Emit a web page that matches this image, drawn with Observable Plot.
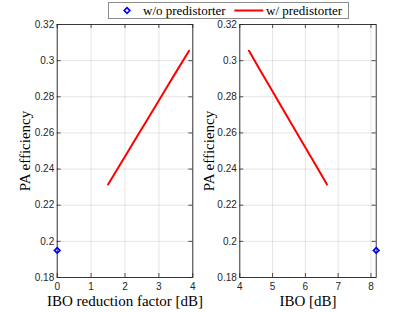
<!DOCTYPE html>
<html><head><meta charset="utf-8">
<script src="https://cdn.jsdelivr.net/npm/d3@7"></script>
<script src="https://cdn.jsdelivr.net/npm/@observablehq/plot@0.6"></script>
<style>
body{margin:0;background:#fff;}
#fig{position:relative;width:415px;height:312px;overflow:hidden;background:#fff;}
#fig svg{position:absolute;top:0;}
</style></head><body><div id="fig"></div>
<script>
// Data
const reductionDb = [1.50, 2.00, 2.50, 3.00, 3.50, 3.89];
const iboDb       = [6.66, 6.16, 5.66, 5.16, 4.66, 4.28];
const effPred     = [0.2315, 0.2470, 0.2625, 0.2780, 0.2935, 0.3055];
const noPredReduction = [0];
const noPredIbo       = [8.16];
const noPredEff       = [0.195];
const yTicks = [0.18, 0.20, 0.22, 0.24, 0.26, 0.28, 0.30, 0.32];
const xTicksLeft  = [0, 1, 2, 3, 4];
const xTicksRight = [4, 5, 6, 7, 8];
const legendLabels = ["w/o predistorter", "w/ predistorter"];
const yLabel = "PA efficiency";
const xLabels = ["IBO reduction factor [dB]", "IBO [dB]"];

const fig = document.getElementById("fig");
const AX = "#262626";
const SERIF = "'Liberation Serif', 'DejaVu Serif', serif";
const SANS = "'Liberation Sans', Arial, sans-serif";

function panel({xs, ys, mx, my, xDomain, xTicks, xLabel, left, width, mL, mR, yDx}) {
  const H = 312, mT = 24, mB = 35;
  const ph = H - mT - mB;
  const pw = width - mL - mR;
  const line = xs.map((x, i) => ({x, y: ys[i]}));
  const marker = mx.map((x, i) => ({x, y: my[i]}));
  const svg = Plot.plot({
    width, height: H, marginLeft: mL, marginRight: mR, marginTop: mT, marginBottom: mB,
    style: {background: "transparent", overflow: "visible"},
    x: {domain: xDomain, label: null},
    y: {domain: [0.18, 0.32], label: null},
    marks: [
      Plot.gridX(xTicks, {stroke: AX, strokeOpacity: 0.12}),
      Plot.gridY(yTicks, {stroke: AX, strokeOpacity: 0.12}),
      Plot.tickX(xTicks, {x: d => d, insetTop: ph - 4, stroke: AX, strokeWidth: 0.8}),
      Plot.tickX(xTicks, {x: d => d, insetBottom: ph - 4, stroke: AX, strokeWidth: 0.8}),
      Plot.tickY(yTicks, {y: d => d, insetRight: pw - 4, stroke: AX, strokeWidth: 0.8}),
      Plot.tickY(yTicks, {y: d => d, insetLeft: pw - 4, stroke: AX, strokeWidth: 0.8}),
      Plot.frame({stroke: AX, strokeWidth: 0.9}),
      Plot.axisX(xTicks, {label: null, tickSize: 0, tickPadding: 5, fontSize: 10, fontFamily: SANS, fill: AX, tickFormat: d => String(d)}),
      Plot.axisY(yTicks, {label: null, tickSize: 0, tickPadding: 3, fontSize: 10, fontFamily: SANS, fill: AX, tickFormat: d => String(+d.toFixed(2))}),
      Plot.line(line, {x: "x", y: "y", stroke: "#ff0000", strokeWidth: 2, curve: "monotone-x"}),
      Plot.dot(marker, {x: "x", y: "y", symbol: "diamond2", r: 2.5, stroke: "#0000ff", strokeWidth: 1.7, fill: "none"}),
      Plot.text([xLabel], {frameAnchor: "bottom", lineAnchor: "middle", textAnchor: "middle", dy: 24, text: d => d, fontSize: 15, fontFamily: SERIF, fill: "#000"}),
      Plot.text([yLabel], {frameAnchor: "left", lineAnchor: "middle", textAnchor: "middle", dx: yDx, rotate: -90, text: d => d, fontSize: 15, fontFamily: SERIF, fill: "#000"})
    ]
  });
  svg.style.left = left + "px";
  fig.appendChild(svg);
}

panel({xs: reductionDb, ys: effPred, mx: noPredReduction, my: noPredEff,
  xDomain: [0, 4], xTicks: xTicksLeft, xLabel: xLabels[0],
  left: 0, width: 207, mL: 56.7, mR: 14.7, yDx: -32});
panel({xs: iboDb, ys: effPred, mx: noPredIbo, my: noPredEff,
  xDomain: [4, 8.16], xTicks: xTicksRight, xLabel: xLabels[1],
  left: 207, width: 208, mL: 32.3, mR: 39.3, yDx: -31});

// Legend (above the plots)
const ns = "http://www.w3.org/2000/svg";
const lg = document.createElementNS(ns, "svg");
lg.setAttribute("width", 415); lg.setAttribute("height", 22);
lg.style.left = "0px";
lg.innerHTML = `
  <rect x="108.5" y="2.5" width="240" height="16" fill="#fff" stroke="#8a8a8a" stroke-width="1"/>
  <path d="M127,7.7L129.8,10.5L127,13.3L124.2,10.5Z" fill="none" stroke="#0000ff" stroke-width="1.7"/>
  <text x="143" y="14.8" font-family="${SERIF}" font-size="13" fill="#000">${legendLabels[0]}</text>
  <line x1="234.3" y1="10.5" x2="263.3" y2="10.5" stroke="#ff0000" stroke-width="2"/>
  <text x="266" y="14.8" font-family="${SERIF}" font-size="13" fill="#000">${legendLabels[1]}</text>`;
fig.appendChild(lg);
</script>
</body></html>
